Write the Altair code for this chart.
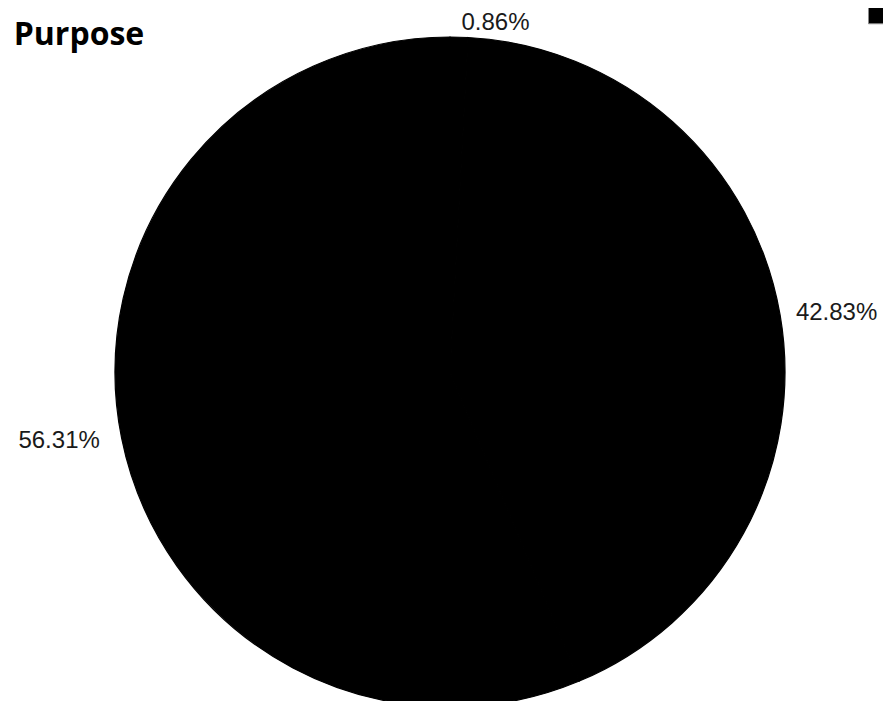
import altair as alt
import pandas as pd

# Data
categories = ["Home Improvement", "Refinancing", "Home Purchase"]
shares = [0.86, 42.83, 56.31]
labels = ["0.86%", "42.83%", "56.31%"]
title_lines = ["Mortgage Loan", "Purpose"]

df = pd.DataFrame({
    "idx": list(range(len(categories))),
    "category": categories,
    "value": shares,
    "label": labels,
})

CX, CY = 442, 364
R = 335
LR = 349

color_scale = alt.Scale(domain=categories, range=["#000000", "#000000", "#000000"])

pie = alt.Chart(df).mark_arc(outerRadius=R, stroke="#000000", strokeWidth=1.2).encode(
    theta=alt.Theta("value:Q", stack=True),
    order=alt.Order("idx:Q"),
    color=alt.Color(
        "category:N",
        scale=color_scale,
        sort=categories,
        legend=alt.Legend(
            title=None,
            orient="none",
            legendX=860,
            legendY=-8,
            direction="horizontal",
            symbolType="square",
            symbolSize=529,
            symbolStrokeColor="#888888",
            symbolStrokeWidth=1,
            labelFontSize=16,
            labelFont="Liberation Sans",
        ),
    ),
    x=alt.value(CX),
    y=alt.value(CY),
)

base_lbl = alt.Chart(df).transform_window(
    cum="sum(value)", sort=[alt.SortField("idx")], frame=[None, 0]
).transform_calculate(
    mid="datum.cum - datum.value / 2"
)

lbl_common = dict(radius=LR, fontSize=24, font="Liberation Sans", color="#1a1a1a", baseline="middle")

labels_right = base_lbl.transform_filter("datum.mid < 50").mark_text(align="left", dx=2, **lbl_common).encode(
    theta=alt.Theta("mid:Q", stack=None),
    text="label:N",
    x=alt.value(CX),
    y=alt.value(CY),
)
labels_left = base_lbl.transform_filter("datum.mid >= 50").mark_text(align="right", dx=-8, **lbl_common).encode(
    theta=alt.Theta("mid:Q", stack=None),
    text="label:N",
    x=alt.value(CX),
    y=alt.value(CY),
)

t_common = dict(font="Open Sans", fontSize=32, fontWeight="bold", color="#000000", align="center", baseline="alphabetic")
title1 = alt.Chart(alt.Data(values=[{}])).mark_text(text=title_lines[0], **t_common).encode(
    x=alt.value(71), y=alt.value(-11)
)
title2 = alt.Chart(alt.Data(values=[{}])).mark_text(text=title_lines[1], **t_common).encode(
    x=alt.value(71), y=alt.value(37)
)

chart = alt.layer(pie, labels_right, labels_left, title1, title2).properties(
    width=875,
    height=693,
    autosize=alt.AutoSizeParams(type="none"),
    padding=0,
).configure_view(stroke=None)

chart.save("out.html", embed_options={"renderer": "svg", "actions": False})
